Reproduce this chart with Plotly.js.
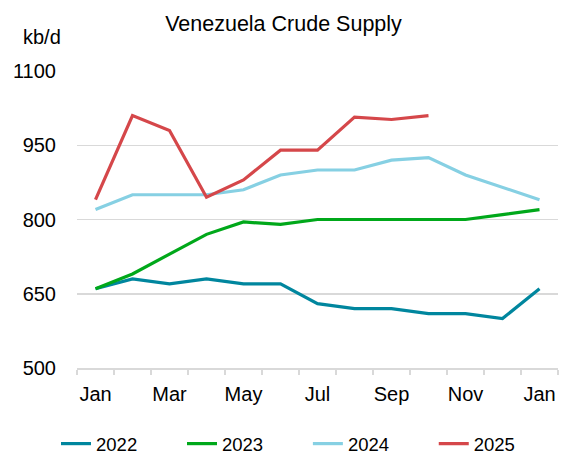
<!DOCTYPE html>
<html>
<head>
<meta charset="utf-8">
<script src="https://cdn.plot.ly/plotly-3.0.1.min.js"></script>
<style>html,body{margin:0;padding:0;background:#fff;}#chart{width:567px;height:455px;}</style>
</head>
<body>
<div id="chart"></div>
<script>
const months = ["Jan","Feb","Mar","Apr","May","Jun","Jul","Aug","Sep","Oct","Nov","Dec","Jan"];
const series2022 = [660, 680, 670, 680, 670, 670, 630, 620, 620, 610, 610, 600, 660];
const series2023 = [660, 690, 730, 770, 795, 790, 800, 800, 800, 800, 800, 810, 820];
const series2024 = [820, 850, 850, 850, 860, 890, 900, 900, 920, 925, 890, 865, 840];
const series2025 = [840, 1010, 980, 845, 880, 940, 940, 1007, 1002, 1010];
const seriesNames = ["2022","2023","2024","2025"];
const yTicks = [500, 650, 800, 950, 1100];

const colors = ["#00869E", "#00A81A", "#86D0E3", "#D5474A"];
const allSeries = [series2022, series2023, series2024, series2025];
const idx = months.map((m, i) => i);
const legendIds = ["legend", "legend2", "legend3", "legend4"];
const legendX = [0.0988, 0.321, 0.543, 0.765];

const traces = allSeries.map((vals, k) => ({
  type: "scatter", mode: "lines",
  x: idx.slice(0, vals.length), y: vals,
  name: seriesNames[k],
  legend: legendIds[k],
  line: {color: colors[k], width: 3.2},
  hoverinfo: "skip"
}));

const font = {family: "Liberation Sans, Arial, sans-serif", color: "#000"};
const layout = {
  width: 567, height: 455,
  margin: {l: 77, r: 9, t: 71, b: 87, autoexpand: false},
  paper_bgcolor: "#fff", plot_bgcolor: "#fff",
  font: Object.assign({size: 20}, font),
  title: {text: "Venezuela Crude Supply", font: Object.assign({size: 21.5}, font),
          x: 0.5, xanchor: "center", xref: "container", y: 0.948, yanchor: "middle", yref: "container"},
  showlegend: true,
  xaxis: {
    range: [-0.5, 12.5], showgrid: false, zeroline: false,
    tickvals: idx.filter(i => i % 2 === 0),
    ticktext: months.filter((m, i) => i % 2 === 0),
    ticks: "", showline: true, linecolor: "#D9D9D9", linewidth: 1.5,
    tickfont: Object.assign({size: 20}, font),
    minor: {tick0: 0.5, dtick: 1, ticks: "outside", ticklen: 5, tickcolor: "#D9D9D9", tickwidth: 1.5, showgrid: false},
    ticklabelstandoff: 7
  },
  yaxis: {
    range: [500, 1100], tickvals: yTicks, ticktext: yTicks.map(String),
    showgrid: true, gridcolor: "#D9D9D9", gridwidth: 1.5, zeroline: false,
    showline: false, ticks: "", tickfont: Object.assign({size: 20}, font),
    ticklabelstandoff: 20
  },
  annotations: [{
    text: "kb/d", xref: "paper", yref: "paper", x: -0.072, y: 1.113,
    xanchor: "center", yanchor: "middle", showarrow: false,
    font: Object.assign({size: 20}, font)
  }]
};
legendIds.forEach((id, k) => {
  layout[id] = {orientation: "h", xref: "container", yref: "container",
    x: legendX[k], xanchor: "left", y: 0.024, yanchor: "middle",
    font: Object.assign({size: 18.5}, font), bgcolor: "rgba(0,0,0,0)"};
});
Plotly.newPlot("chart", traces, layout, {displayModeBar: false, staticPlot: true});
</script>
</body>
</html>
